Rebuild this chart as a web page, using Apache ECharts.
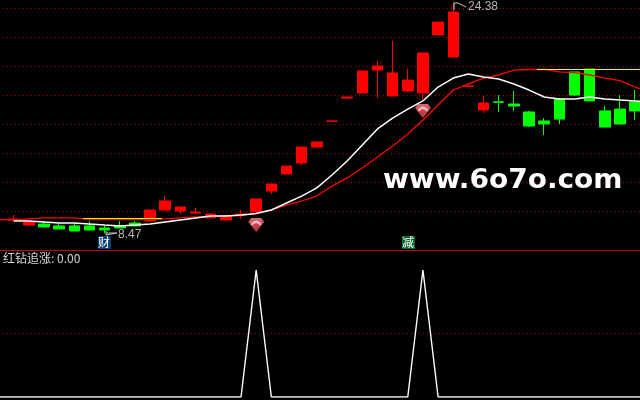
<!DOCTYPE html>
<html><head><meta charset="utf-8">
<style>html,body{margin:0;padding:0;background:#000}#c{width:640px;height:400px}</style>
<script src="https://cdn.jsdelivr.net/npm/echarts@6/dist/echarts.min.js"></script>
</head><body><div id="c"></div>
<script>
const categories = Array.from({length:44},(_,i)=>String(i));
const candleOpen  = [null,9.38,9.03,9.10,8.97,8.97,8.97,8.83,8.97,9.17,9.31,10.07,10.00,9.86,9.52,9.38,9.72,9.93,11.38,12.55,13.31,14.41,16.19,17.79,18.14,19.72,17.93,18.28,18.14,22.14,20.62,18.60,16.97,17.53,17.38,16.83,16.21,17.72,19.59,19.79,16.90,17.03,17.52,null];
const candleClose = [null,9.45,9.24,8.90,8.76,8.62,8.69,8.69,8.83,8.97,10.07,10.69,10.28,9.93,9.79,9.66,9.79,10.83,11.86,13.10,14.41,14.76,16.21,17.86,19.66,20.00,19.52,19.03,20.90,23.03,23.72,18.62,17.45,17.50,17.24,15.86,16.00,16.34,18.00,17.59,15.79,16.00,16.90,null];
const candleLow   = [null,9.31,9.03,8.83,8.76,8.62,8.69,8.47,8.83,8.97,9.24,10.07,9.79,9.79,9.52,9.31,9.45,9.79,11.17,12.55,13.17,14.34,16.19,17.72,18.14,17.79,17.93,18.21,17.59,22.14,20.62,18.60,16.76,16.83,16.90,15.79,15.24,16.00,17.93,17.59,15.79,16.00,16.28,null];
const candleHigh  = [null,9.72,9.31,9.24,9.17,9.17,9.31,8.97,9.31,9.31,10.07,11.03,10.28,10.21,9.86,9.72,10.07,10.83,11.86,13.10,14.41,14.76,16.21,17.86,19.66,20.34,21.72,19.79,20.90,23.03,24.38,18.83,17.93,18.00,18.28,16.90,16.41,17.79,19.59,19.79,17.24,18.00,18.34,null];
const whiteLine = [null,9.31,9.31,9.24,9.17,9.17,9.10,9.03,8.97,9.03,9.10,9.24,9.38,9.52,9.66,9.66,9.72,9.83,10.07,10.55,11.03,11.59,12.48,13.45,14.55,15.66,16.41,17.03,17.59,18.55,19.17,19.45,19.24,19.10,18.76,18.34,17.86,17.72,17.72,17.86,17.72,17.66,17.59,17.52];
const redLine = [9.41,9.38,9.45,9.52,9.52,9.52,9.41,9.41,9.41,9.41,9.41,9.45,9.52,9.59,9.59,9.66,9.69,9.83,10.07,10.41,10.69,11.03,11.72,12.28,12.97,13.72,14.48,15.31,16.28,17.31,18.34,18.76,19.17,19.38,19.72,19.76,19.76,19.59,19.54,19.38,19.17,18.99,18.55,18.21];
const yellowA = [[6.07,9.483],[11.29,9.483]];
const yellowB = [[36.02,19.76],[44,19.76]];
const diamonds = [[17,9.03],[28,16.90]];
const indicator = [0,0,0,0,0,0,0,0,0,0,0,0,0,0,0,0,0,100,0,0,0,0,0,0,0,0,0,0,100,0,0,0,0,0,0,0,0,0,0,0,0,0,0,0];
const titleText = '红钻追涨: 0.00', highLabel = '24.38', lowLabel = '8.47', siteText = 'www.6o7o.com';
const markCai = '财', markJian = '减';

const candles = categories.map((_,i)=>candleOpen[i]==null?['-','-','-','-']:[candleOpen[i],candleClose[i],candleLow[i],candleHigh[i]]);
const dots = {color:'#b00000',type:[1,3],width:1};
const chart = echarts.init(document.getElementById('c'),null,{renderer:'canvas'});
const L=-9.1,W=667;
chart.setOption({
  animation:false, backgroundColor:'#000',
  grid:[{left:L,width:W,top:8,height:232,outerBoundsMode:'none',containLabel:false},{left:L,width:W,top:270,height:127,outerBoundsMode:'none',containLabel:false}],
  xAxis:[
    {type:'category',gridIndex:0,data:categories,offset:10,axisLine:{show:true,onZero:false,lineStyle:{color:'#d00000',width:1}},axisTick:{show:false},axisLabel:{show:false},splitLine:{show:false}},
    {type:'value',gridIndex:0,min:0,max:44,show:false,splitLine:{show:false}},
    {type:'category',gridIndex:1,data:categories,boundaryGap:true,axisLine:{show:false},axisTick:{show:false},axisLabel:{show:false},splitLine:{show:false}}
  ],
  yAxis:[
    {type:'value',gridIndex:0,min:8,max:24,interval:2,axisLine:{show:false},axisTick:{show:false},axisLabel:{show:false},splitLine:{show:true,showMinLine:false,lineStyle:dots}},
    {type:'value',gridIndex:1,min:0,max:100,interval:50,axisLine:{show:false},axisTick:{show:false},axisLabel:{show:false},splitLine:{show:true,showMinLine:false,showMaxLine:false,lineStyle:dots}}
  ],
  series:[
    {type:'candlestick',xAxisIndex:0,yAxisIndex:0,data:candles,barWidth:11,clip:false,z:3,
     itemStyle:{color:'#ff0000',color0:'#00ff00',borderColor:'#ff0000',borderColor0:'#00ff00',borderWidth:1}},
    {type:'line',xAxisIndex:0,yAxisIndex:0,data:redLine,symbol:'none',z:5,lineStyle:{color:'#ff0000',width:1.3}},
    {type:'line',xAxisIndex:0,yAxisIndex:0,data:whiteLine,symbol:'none',z:6,lineStyle:{color:'#ffffff',width:1.5}},
    {type:'line',xAxisIndex:1,yAxisIndex:0,data:yellowA,symbol:'none',z:6,lineStyle:{color:'#ffff00',width:1}},
    {type:'line',xAxisIndex:1,yAxisIndex:0,data:yellowB,symbol:'none',z:6,lineStyle:{color:'#ffff00',width:1}},
    {type:'scatter',xAxisIndex:0,yAxisIndex:0,data:diamonds,z:7,symbol:'path://M3 0 H13 L16 4 L8 14 L0 4 Z',symbolSize:[16,14],
      itemStyle:{color:{type:'linear',x:0,y:0,x2:0,y2:1,colorStops:[{offset:0,color:'#ff8a94'},{offset:.5,color:'#f8505f'},{offset:1,color:'#e84050'}]}}},
    {type:'scatter',xAxisIndex:0,yAxisIndex:0,data:diamonds,z:8,symbol:'path://M2 4 Q8 -2 14 4 L12 5 Q8 1 4 5 Z',symbolSize:[11,5],symbolOffset:[0,-2],
      itemStyle:{color:'#ffd0d4'}},
    {type:'line',xAxisIndex:2,yAxisIndex:1,data:indicator,symbol:'none',z:5,lineStyle:{color:'#ffffff',width:1.4}}
  ],
  graphic:[
    {type:'text',z:20,left:3,top:252,style:{text:titleText,fill:'#d8d8d8',font:'12px "Noto Sans CJK SC"'}},
    {type:'text',z:20,x:468,y:1,style:{text:highLabel,fill:'#b8b8b8',font:'12px "Liberation Sans"'}},
    {type:'text',z:20,x:118,y:229,style:{text:lowLabel,fill:'#b8b8b8',font:'12px "Liberation Sans"'}},
    {type:'polyline',z:20,shape:{points:[[454,10],[454,3],[458,3],[466,7]]},style:{stroke:'#c8c8c8',fill:null,lineWidth:1}},
    {type:'polyline',z:20,shape:{points:[[106,231],[106,235],[117,233],[106,233]]},style:{stroke:'#c8c8c8',fill:null,lineWidth:1}},
    {type:'rect',z:20,shape:{x:98,y:236,width:13,height:13},style:{fill:'#0c3f74'}},
    {type:'text',z:21,x:98,y:236,style:{text:markCai,fill:'#ffffff',font:'12px "Noto Sans CJK SC"'}},
    {type:'rect',z:20,shape:{x:402,y:236,width:13,height:13},style:{fill:'#0a6a2c'}},
    {type:'text',z:21,x:402,y:236,style:{text:markJian,fill:'#ffffff',font:'12px "Noto Sans CJK SC"'}},
    {type:'text',z:25,x:383,y:167,scaleX:1.037,style:{text:siteText,fill:'#ffffff',font:'bold 27px "DejaVu Sans"'}}
  ]
});
</script></body></html>
